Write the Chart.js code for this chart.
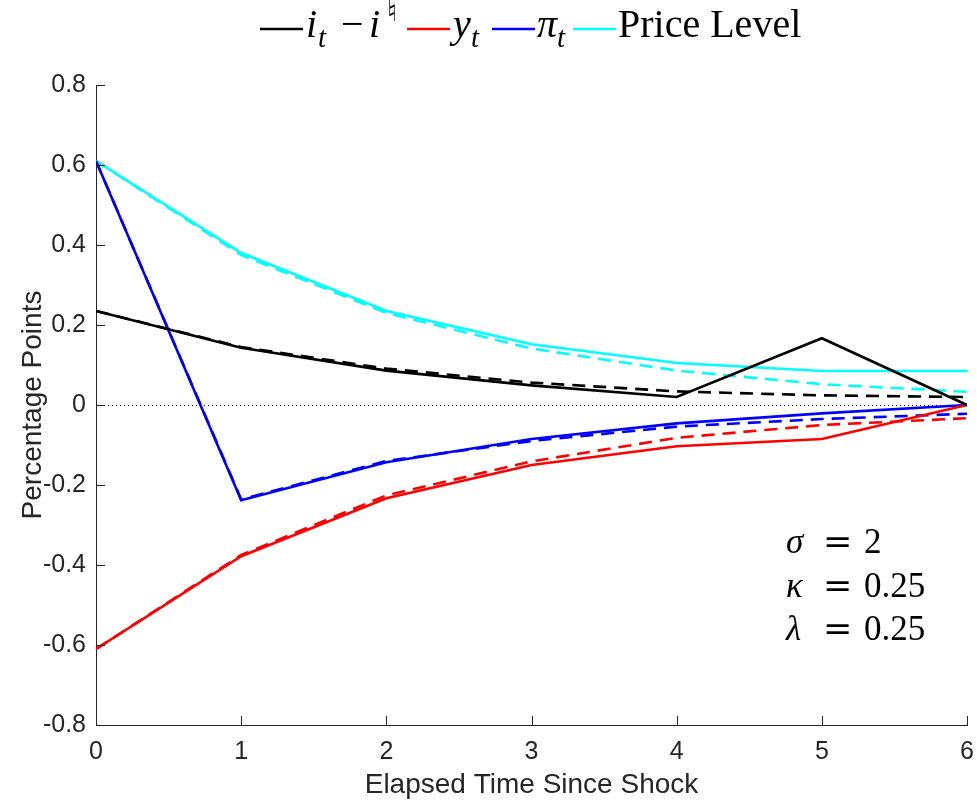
<!DOCTYPE html>
<html lang="en">
<head>
    <meta charset="UTF-8">
    <title>Impulse Responses</title>
    <script src="https://cdn.jsdelivr.net/npm/chart.js"></script>
    <style>
        body { margin: 0; background: #fff; }
        #irfChart { display: block; }
    </style>
</head>
<body>
<canvas id="irfChart" width="977" height="803"></canvas>

<script>
// periods after the shock
const periods = [0, 1, 2, 3, 4, 5, 6];

// solid lines
const rateGap = [0.235, 0.143, 0.086, 0.049, 0.020, 0.167, 0.0];
const output = [-0.610, -0.378, -0.233, -0.150, -0.103, -0.085, 0.0];
const inflation = [0.610, -0.238, -0.143, -0.085, -0.046, -0.021, 0.0];
const priceLevel = [0.610, 0.380, 0.235, 0.152, 0.105, 0.085, 0.085];

// dashed lines
const rateGapDash = [0.235, 0.145, 0.091, 0.056, 0.034, 0.024, 0.020];
const outputDash = [-0.610, -0.375, -0.226, -0.141, -0.082, -0.050, -0.033];
const inflationDash = [0.610, -0.236, -0.140, -0.090, -0.054, -0.035, -0.022];
const priceLevelDash = [0.610, 0.375, 0.230, 0.141, 0.086, 0.052, 0.033];

const seriesColors = ["#000000", "#ff0000", "#0000ff", "#00ffff"];
const yTicks = [-0.8, -0.6, -0.4, -0.2, 0, 0.2, 0.4, 0.6, 0.8];

const textGrey = "#262626";
const serif = "'Liberation Serif', 'DejaVu Serif', serif";

function toPoints(values) {
    return values.map((v, i) => ({ x: periods[i], y: v }));
}

const solidSets = [rateGap, output, inflation, priceLevel].map((vals, i) => ({
    data: toPoints(vals),
    borderColor: seriesColors[i],
    borderWidth: 2.6,
    pointRadius: 0,
    tension: 0,
    fill: false
}));
const dashSets = [rateGapDash, outputDash, inflationDash, priceLevelDash].map((vals, i) => ({
    data: toPoints(vals),
    borderColor: seriesColors[i],
    borderWidth: 2.6,
    borderDash: [13, 8],
    pointRadius: 0,
    tension: 0,
    fill: false
}));

// inward tick marks, matlab style
const inwardTicks = {
    id: "inwardTicks",
    afterDraw(chart) {
        const { ctx, chartArea, scales } = chart;
        ctx.save();
        ctx.strokeStyle = textGrey;
        ctx.lineWidth = 1;
        ctx.beginPath();
        periods.forEach(p => {
            const x = Math.round(scales.x.getPixelForValue(p)) + 0.5;
            ctx.moveTo(x, chartArea.bottom);
            ctx.lineTo(x, chartArea.bottom - 9);
        });
        yTicks.forEach(t => {
            const y = Math.round(scales.y.getPixelForValue(t)) + 0.5;
            ctx.moveTo(chartArea.left, y);
            ctx.lineTo(chartArea.left + 9, y);
        });
        ctx.stroke();
        ctx.restore();
    }
};

// dotted zero line
const zeroLine = {
    id: "zeroLine",
    beforeDatasetsDraw(chart) {
        const { ctx, chartArea, scales } = chart;
        const y = Math.round(scales.y.getPixelForValue(0)) + 0.5;
        ctx.save();
        ctx.strokeStyle = "#000";
        ctx.lineWidth = 1;
        ctx.setLineDash([1, 3]);
        ctx.beginPath();
        ctx.moveTo(chartArea.left, y);
        ctx.lineTo(chartArea.right, y);
        ctx.stroke();
        ctx.restore();
    }
};

// text pieces: {t, it, sub, sup, dx = offset from item text start}
function drawPieces(ctx, pieces, x0, y, size) {
    let x = x0;
    pieces.forEach(p => {
        const s = (p.sub || p.sup) ? size * 0.72 : size;
        const dy = p.sub ? size * 0.24 : (p.sup ? -size * 0.4 : 0);
        if (p.dx !== undefined) x = x0 + p.dx;
        ctx.font = (p.it ? "italic " : "") + s + "px " + serif;
        ctx.fillText(p.t, x, y + dy);
        x += ctx.measureText(p.t).width;
    });
}

const legendStarts = [260, 407, 492, 573];
const legendItems = [
    [{ t: "i", it: true, dx: 1 }, { t: "t", it: true, sub: true, dx: 13 }, { t: "\u2212", dx: 36 }, { t: "i", it: true, dx: 64 }, { t: "\u266E", sup: true, dx: 82 }],
    [{ t: "y", it: true, dx: 1 }, { t: "t", it: true, sub: true, dx: 19 }],
    [{ t: "\u03C0", it: true, dx: 0 }, { t: "t", it: true, sub: true, dx: 20 }],
    [{ t: "Price Level", dx: 0 }]
];

const mathLegend = {
    id: "mathLegend",
    afterDraw(chart) {
        const ctx = chart.ctx;
        const lineY = 29, baseY = 37;
        ctx.save();
        ctx.fillStyle = "#000";
        ctx.textBaseline = "alphabetic";
        legendItems.forEach((pieces, i) => {
            const x = legendStarts[i];
            ctx.strokeStyle = seriesColors[i];
            ctx.lineWidth = 2.6;
            ctx.beginPath();
            ctx.moveTo(x, lineY);
            ctx.lineTo(x + 43, lineY);
            ctx.stroke();
            drawPieces(ctx, pieces, x + 45, baseY, 40);
        });
        ctx.restore();
    }
};

const paramRows = [
    { sym: "\u03C3", val: "2" },
    { sym: "\u03BA", val: "0.25" },
    { sym: "\u03BB", val: "0.25" }
];

const paramNote = {
    id: "paramNote",
    afterDraw(chart) {
        const ctx = chart.ctx;
        ctx.save();
        ctx.fillStyle = "#000";
        ctx.textBaseline = "alphabetic";
        paramRows.forEach((r, i) => {
            const y = 553 + i * 43.5;
            ctx.font = "italic 35px " + serif;
            ctx.fillText(r.sym, 786, y);
            ctx.font = "35px 'DejaVu Serif', serif";
            ctx.fillText("=", 823, y);
            ctx.font = "35px " + serif;
            ctx.fillText(r.val, 864, y);
        });
        ctx.restore();
    }
};

new Chart(document.getElementById("irfChart"), {
    type: "line",
    data: { datasets: solidSets.concat(dashSets) },
    options: {
        responsive: false,
        animation: false,
        layout: { padding: { top: 85, right: 10, left: 0, bottom: 0 } },
        plugins: {
            legend: { display: false },
            tooltip: { enabled: false }
        },
        scales: {
            x: {
                type: "linear",
                min: 0,
                max: 6,
                afterFit(scale) {
                    scale.height = 78;
                    scale.paddingLeft = 0;
                    scale.paddingRight = 0;
                },
                grid: { display: true, drawOnChartArea: false, drawTicks: false },
                border: { display: true, color: textGrey, width: 1 },
                ticks: {
                    stepSize: 1,
                    padding: 12,
                    color: textGrey,
                    font: { family: "'Liberation Sans', Arial, sans-serif", size: 25 }
                },
                title: {
                    display: true,
                    text: "Elapsed Time Since Shock",
                    color: textGrey,
                    padding: { top: 0, bottom: 1 },
                    font: { family: "'Liberation Sans', Arial, sans-serif", size: 28 }
                }
            },
            y: {
                min: -0.8,
                max: 0.8,
                afterFit(scale) {
                    scale.width = 96;
                    scale.paddingTop = 0;
                    scale.paddingBottom = 0;
                },
                afterBuildTicks(scale) { scale.ticks = yTicks.map(v => ({ value: v })); },
                grid: { display: true, drawOnChartArea: false, drawTicks: false },
                border: { display: true, color: textGrey, width: 1 },
                ticks: {
                    padding: 10,
                    color: textGrey,
                    font: { family: "'Liberation Sans', Arial, sans-serif", size: 25 },
                    callback: v => Math.abs(v) < 1e-9 ? "0" : v.toFixed(1)
                },
                title: {
                    display: true,
                    text: "Percentage Points",
                    color: textGrey,
                    padding: { top: 16, bottom: 0 },
                    font: { family: "'Liberation Sans', Arial, sans-serif", size: 28 }
                }
            }
        }
    },
    plugins: [zeroLine, inwardTicks, mathLegend, paramNote]
});
</script>
</body>
</html>
